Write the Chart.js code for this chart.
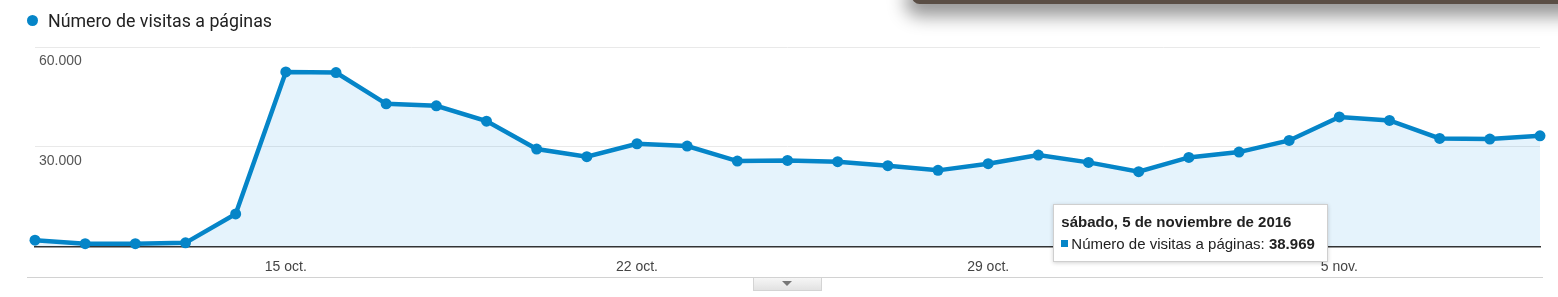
<!DOCTYPE html>
<html lang="es">
<head>
<meta charset="utf-8">
<script src="https://cdn.jsdelivr.net/npm/chart.js@4.4.1/dist/chart.umd.min.js"></script>
<style>
  html, body { margin: 0; padding: 0; background: #fff; }
  body { width: 1558px; height: 297px; position: relative; overflow: hidden; font-family: "Liberation Sans", Arial, sans-serif; }
  #grafico { position: absolute; left: 0; top: 0; width: 1558px; height: 297px; }
  .leyenda { position: absolute; left: 27px; top: 10px; font-family: Roboto, "Noto Sans", sans-serif; font-size: 17.8px; color: #222; z-index: 2; }
  .leyenda .punto { display: inline-block; width: 11px; height: 11px; border-radius: 50%; background: #0585c8; margin-right: 10px; vertical-align: 1px; }
  .ventana { position: absolute; left: 912px; top: -11px; width: 690px; height: 15px; background: #5a4e45; border-radius: 9px; box-shadow: 0 5px 18px 7px rgba(0,0,0,0.42); z-index: 3; }
  .borde { position: absolute; left: 27px; top: 277px; width: 1516px; height: 1px; background: #d2d2d2; }
  .pestana { position: absolute; left: 753px; top: 278px; width: 67px; height: 12px; background: linear-gradient(#f6f6f6, #e2e2e2); border: 1px solid #d4d4d4; border-top: none; }
  .pestana:after { content: ""; position: absolute; left: 28px; top: 3px; border-left: 5px solid transparent; border-right: 5px solid transparent; border-top: 5px solid #777; }
  #tip { position: absolute; background: #fff; border: 1px solid #cfcfcf; box-shadow: 0 1px 4px rgba(0,0,0,0.18); padding: 7px 12px 8px 7px; font-size: 15px; line-height: 19px; color: #222; white-space: nowrap; opacity: 0; z-index: 4; }
  #tip .titulo { font-weight: bold; margin-bottom: 3px; }
  #tip .cuadro { display: inline-block; width: 7px; height: 7px; background: #0585c8; margin-right: 3px; vertical-align: 2px; }
  #tip b { font-weight: bold; }
</style>
</head>
<body>
<div class="ventana"></div>
<div class="leyenda"><span class="punto"></span>Número de visitas a páginas</div>
<div id="grafico"><canvas id="lienzo"></canvas></div>
<div class="borde"></div>
<div class="pestana"></div>
<div id="tip"></div>
<script>
const serie = 'Número de visitas a páginas'

const fechas = [
  '2016-10-10', '2016-10-11', '2016-10-12', '2016-10-13', '2016-10-14', '2016-10-15', '2016-10-16',
  '2016-10-17', '2016-10-18', '2016-10-19', '2016-10-20', '2016-10-21', '2016-10-22', '2016-10-23',
  '2016-10-24', '2016-10-25', '2016-10-26', '2016-10-27', '2016-10-28', '2016-10-29', '2016-10-30',
  '2016-10-31', '2016-11-01', '2016-11-02', '2016-11-03', '2016-11-04', '2016-11-05', '2016-11-06',
  '2016-11-07', '2016-11-08', '2016-11-09'
]

const visitas = [
  1900, 850, 850, 1100, 9800, 52500, 52300,
  42900, 42300, 37700, 29300, 27000, 30900, 30200,
  25700, 25900, 25500, 24300, 22900, 24900, 27500,
  25300, 22500, 26800, 28400, 31900, 38969, 37900,
  32500, 32300, 33300
]

// etiquetas del eje x (solo los sábados que se muestran)
const etiquetasEje = {
  '2016-10-15': '15 oct.',
  '2016-10-22': '22 oct.',
  '2016-10-29': '29 oct.',
  '2016-11-05': '5 nov.'
}

const marcasY = [0, 30000, 60000]
const diaActivo = '2016-11-05'

const diasSemana = ['domingo', 'lunes', 'martes', 'miércoles', 'jueves', 'viernes', 'sábado']
const meses = ['enero', 'febrero', 'marzo', 'abril', 'mayo', 'junio', 'julio', 'agosto', 'septiembre', 'octubre', 'noviembre', 'diciembre']

const azul = '#0585c8'

function miles(n) {
  return String(n).replace(/\B(?=(\d{3})+(?!\d))/g, '.')
}

function fechaLarga(iso) {
  const [a, m, d] = iso.split('-').map(Number)
  const f = new Date(a, m - 1, d)
  return diasSemana[f.getDay()] + ', ' + d + ' de ' + meses[m - 1] + ' de ' + a
}

function tooltipExterno(context) {
  const tip = document.getElementById('tip')
  const t = context.tooltip
  if (t.opacity === 0 || !t.dataPoints || !t.dataPoints.length) {
    tip.style.opacity = 0
    return
  }
  const p = t.dataPoints[0]
  tip.innerHTML = '<div class="titulo">' + fechaLarga(fechas[p.dataIndex]) + '</div>' +
    '<div><span class="cuadro"></span>' + serie + ': <b>' + miles(p.raw) + '</b></div>'
  tip.style.left = (t.caretX - 286) + 'px'
  tip.style.top = (t.caretY + 87) + 'px'
  tip.style.opacity = 1
}

const ctx = document.getElementById('lienzo')

const chart = new Chart(ctx, {
  type: 'line',
  data: {
    labels: fechas,
    datasets: [{
      label: serie,
      data: visitas,
      borderColor: azul,
      backgroundColor: 'rgba(0, 140, 230, 0.1)',
      fill: 'origin',
      borderWidth: 4.5,
      pointRadius: 5.5,
      pointBorderWidth: 0,
      pointBackgroundColor: azul,
      pointHoverRadius: 5.5,
      tension: 0,
      clip: false
    }]
  },
  options: {
    responsive: true,
    maintainAspectRatio: false,
    animation: false,
    events: [],
    layout: {
      padding: { left: 35, right: 18, top: 47, bottom: 0 }
    },
    plugins: {
      legend: { display: false },
      tooltip: {
        enabled: false,
        external: tooltipExterno
      }
    },
    scales: {
      x: {
        offset: false,
        grid: { display: false, drawTicks: false },
        border: { display: true, color: '#333', width: 1.5 },
        afterFit: (scale) => { scale.height = 50.5 },
        ticks: {
          autoSkip: false,
          maxRotation: 0,
          padding: 12,
          color: '#444',
          font: { family: '"Liberation Sans", Arial, sans-serif', size: 14 },
          callback: function (value, index) {
            return etiquetasEje[fechas[index]] || ''
          }
        }
      },
      y: {
        min: 0,
        max: 60000,
        afterFit: (scale) => { scale.width = 0 },
        afterBuildTicks: (scale) => {
          scale.ticks = marcasY.map(v => ({ value: v }))
        },
        border: { display: false },
        grid: {
          drawTicks: false,
          color: (c) => c.tick && c.tick.value === 0 ? 'rgba(0,0,0,0)' : '#e9e9e9',
          lineWidth: 1
        },
        ticks: {
          mirror: true,
          padding: 4,
          labelOffset: 14,
          color: '#555',
          font: { family: '"Liberation Sans", Arial, sans-serif', size: 14 },
          callback: (value) => value === 0 ? '' : miles(value)
        }
      }
    }
  }
})

chart.tooltip.setActiveElements([{ datasetIndex: 0, index: fechas.indexOf(diaActivo) }], { x: 0, y: 0 })
chart.update('none')
</script>
</body>
</html>
